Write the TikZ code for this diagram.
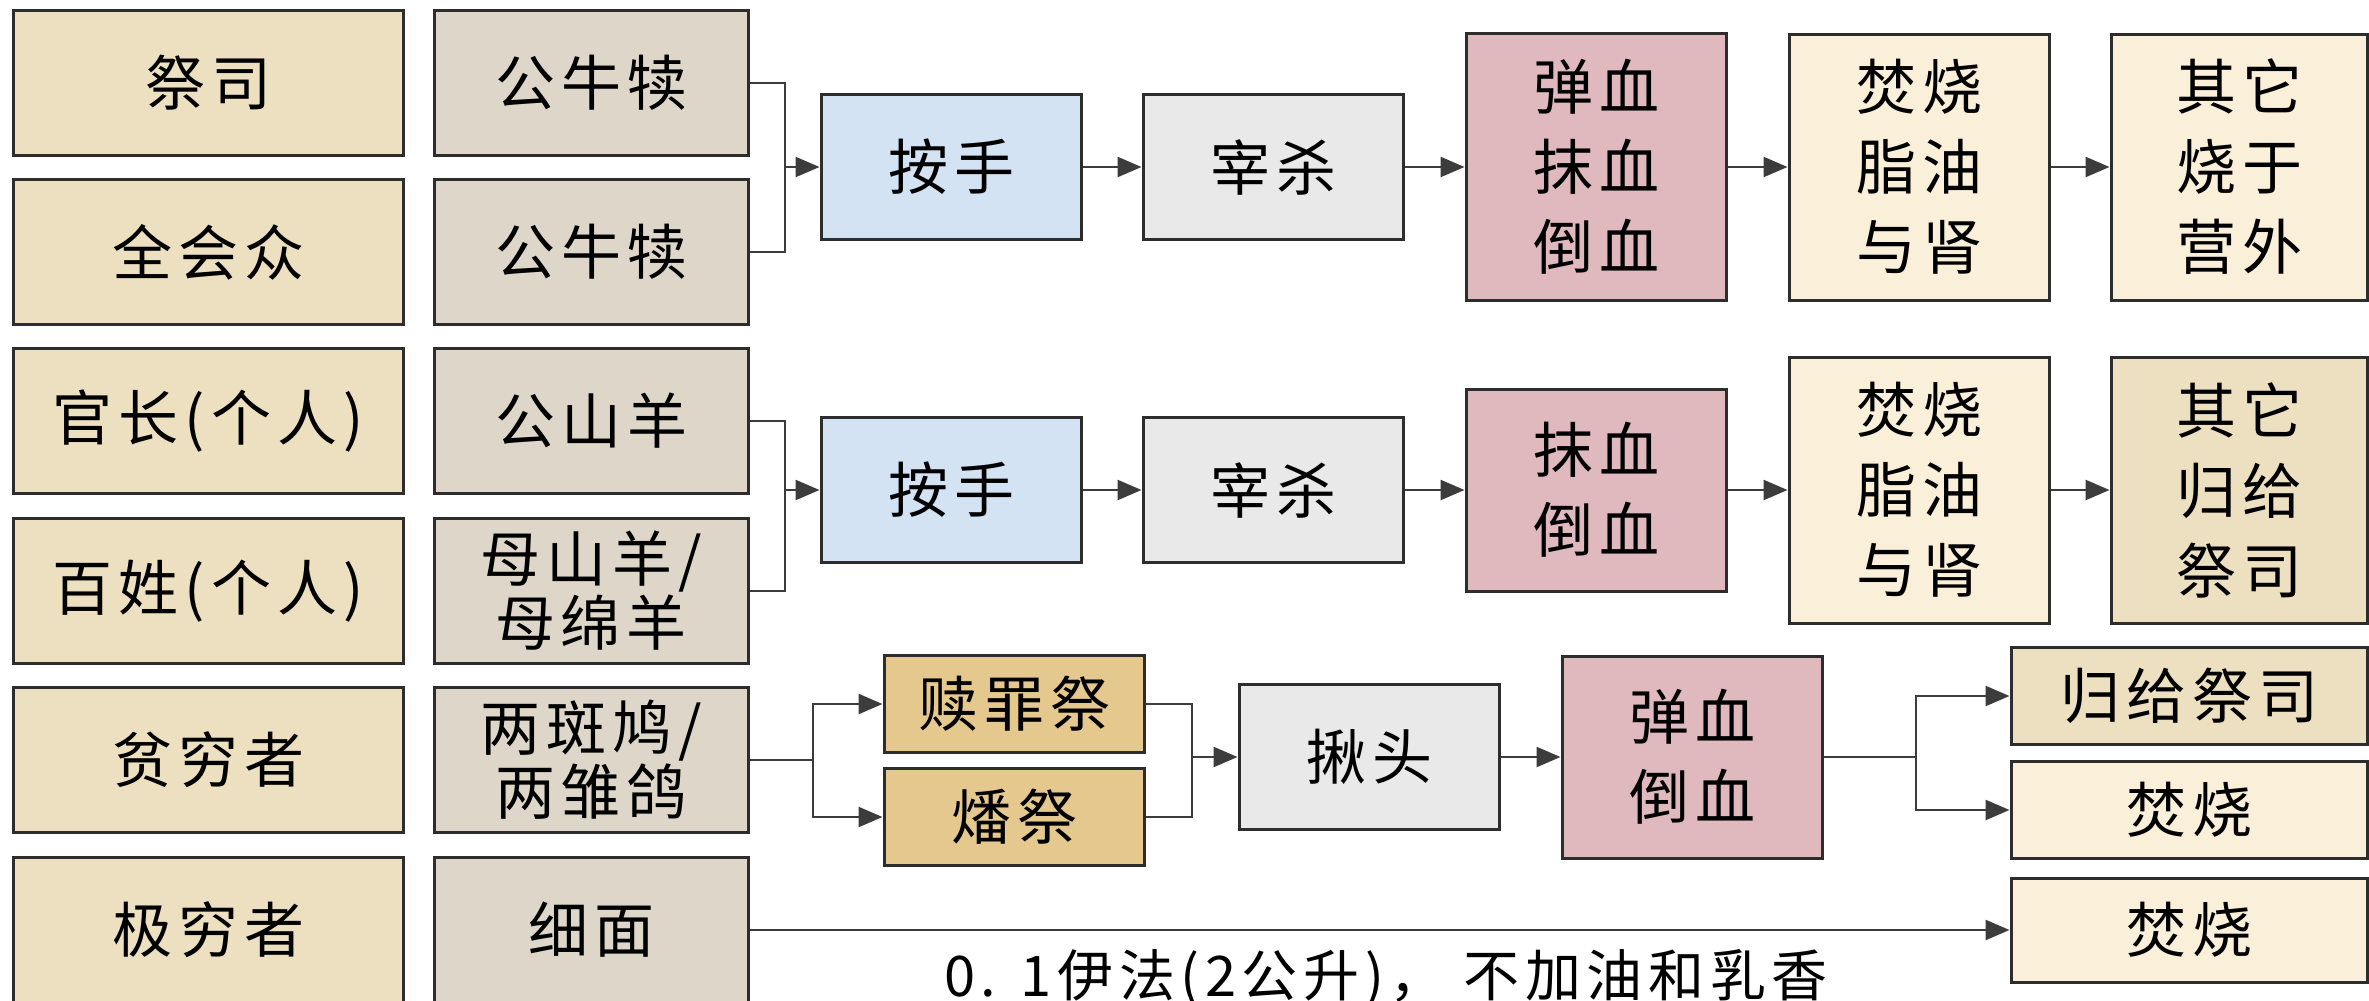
\documentclass[tikz,border=0pt]{standalone}
\usepackage{fontspec}
\usetikzlibrary{arrows.meta}
\newfontfamily\cjk{Noto Sans CJK SC}
\newfontfamily\cjkwide{Noto Sans CJK SC}[LetterSpace=10]
\definecolor{who_tan}{RGB}{236, 224, 193}
\definecolor{beast_grey}{RGB}{222, 215, 201}
\definecolor{hand_blue}{RGB}{211, 227, 243}
\definecolor{slay_grey}{RGB}{233, 233, 233}
\definecolor{blood_pink}{RGB}{223, 185, 189}
\definecolor{fire_cream}{RGB}{250, 240, 218}
\definecolor{gold_tan}{RGB}{229, 200, 142}
\definecolor{line_grey}{RGB}{45, 45, 45}
\definecolor{wire_grey}{RGB}{60, 60, 60}
\tikzstyle{box}=[rectangle,draw=line_grey,line width=3pt,align=center,inner sep=0pt,
  font=\cjkwide\fontsize{60}{64}\selectfont]
\tikzstyle{tallbox}=[box,font=\cjkwide\fontsize{60}{80}\selectfont]
\tikzstyle{who}=[box,fill=who_tan,minimum width=390pt,minimum height=145pt]
\tikzstyle{beast}=[box,fill=beast_grey,minimum width=314pt,minimum height=145pt]
\tikzstyle{hand}=[box,fill=hand_blue,minimum width=260pt,minimum height=145pt]
\tikzstyle{slay}=[box,fill=slay_grey,minimum width=260pt,minimum height=145pt]
\tikzstyle{blood}=[tallbox,fill=blood_pink,minimum width=260pt]
\tikzstyle{fire}=[tallbox,fill=fire_cream,minimum width=260pt,minimum height=266pt]
\tikzstyle{gold}=[box,fill=gold_tan,minimum width=260pt,minimum height=97pt]
\tikzstyle{wire}=[line width=2.5pt,draw=wire_grey]
\tikzstyle{arr}=[wire,-{Triangle[length=24pt,width=20pt]}]

\begin{document}
\begin{tikzpicture}[x=1pt,y=-1pt]
        \useasboundingbox (0,0) rectangle (2369,1001);
        \node [style=who] (w1) at (208,83) {祭司};
        \node [style=who] (w2) at (208,252) {全会众};
        \node [style=who] (w3) at (208,421) {官长(个人)};
        \node [style=who] (w4) at (208,591) {百姓(个人)};
        \node [style=who] (w5) at (208,760) {贫穷者};
        \node [style=who] (w6) at (208,930) {极穷者};
        \node [style=beast] (a1) at (591,83) {公牛犊};
        \node [style=beast] (a2) at (591,252) {公牛犊};
        \node [style=beast] (a3) at (591,421) {公山羊};
        \node [style=beast] (a4) at (591,591) {母山羊/\\母绵羊};
        \node [style=beast] (a5) at (591,760) {两斑鸠/\\两雏鸽};
        \node [style=beast] (a6) at (591,930) {细面};
        \node [style=hand] (h1) at (951,167) {按手};
        \node [style=slay] (k1) at (1273,167) {宰杀};
        \node [style=blood,minimum height=267pt] (b1) at (1596,167) {弹血\\抹血\\倒血};
        \node [style=fire] (f1) at (1919,167) {焚烧\\脂油\\与肾};
        \node [style=fire,minimum width=256pt] (r1) at (2239,167) {其它\\烧于\\营外};
        \node [style=hand] (h2) at (951,490) {按手};
        \node [style=slay] (k2) at (1273,490) {宰杀};
        \node [style=blood,minimum height=202pt] (b2) at (1596,490) {抹血\\倒血};
        \node [style=fire] (f2) at (1919,490) {焚烧\\脂油\\与肾};
        \node [style=fire,fill=who_tan,minimum width=256pt] (r2) at (2239,490) {其它\\归给\\祭司};
        \node [style=gold] (sin) at (1014,704) {赎罪祭};
        \node [style=gold] (whole) at (1014,817) {燔祭};
        \node [style=slay] (head) at (1369,757) {揪头};
        \node [style=blood,minimum height=202pt] (b3) at (1692,757) {弹血\\倒血};
        \node [style=gold,fill=who_tan,minimum width=356pt] (pr) at (2189,696) {归给祭司};
        \node [style=gold,fill=fire_cream,minimum width=356pt] (f3) at (2189,810) {焚烧};
        \node [style=gold,fill=fire_cream,minimum width=356pt,minimum height=104pt] (f4) at (2189,930) {焚烧};
        \node [font=\cjkwide\fontsize{56}{60}\selectfont] (note) at (1386,978) {0. 1伊法(2公升)， 不加油和乳香};
        \coordinate (j1) at (785,167);
        \coordinate (j2) at (785,490);
        \coordinate (s3) at (813,760);
        \coordinate (m3) at (1192,757);
        \coordinate (s4) at (1916,757);
        \draw [style=wire] (a1) -| (j1) |- (a2);
        \draw [style=arr] (j1) to (h1);
        \draw [style=arr] (h1) to (k1);
        \draw [style=arr] (k1) to (b1);
        \draw [style=arr] (b1) to (f1);
        \draw [style=arr] (f1) to (r1);
        \draw [style=wire] (a3) -| (j2) |- (a4);
        \draw [style=arr] (j2) to (h2);
        \draw [style=arr] (h2) to (k2);
        \draw [style=arr] (k2) to (b2);
        \draw [style=arr] (b2) to (f2);
        \draw [style=arr] (f2) to (r2);
        \draw [style=wire] (a5) to (s3);
        \draw [style=arr] (s3) |- (sin);
        \draw [style=arr] (s3) |- (whole);
        \draw [style=wire] (sin) -| (m3);
        \draw [style=wire] (whole) -| (m3);
        \draw [style=arr] (m3) to (head);
        \draw [style=arr] (head) to (b3);
        \draw [style=wire] (b3) to (s4);
        \draw [style=arr] (s4) |- (pr);
        \draw [style=arr] (s4) |- (f3);
        \draw [style=arr] (a6) to (f4);
\end{tikzpicture}
\end{document}
